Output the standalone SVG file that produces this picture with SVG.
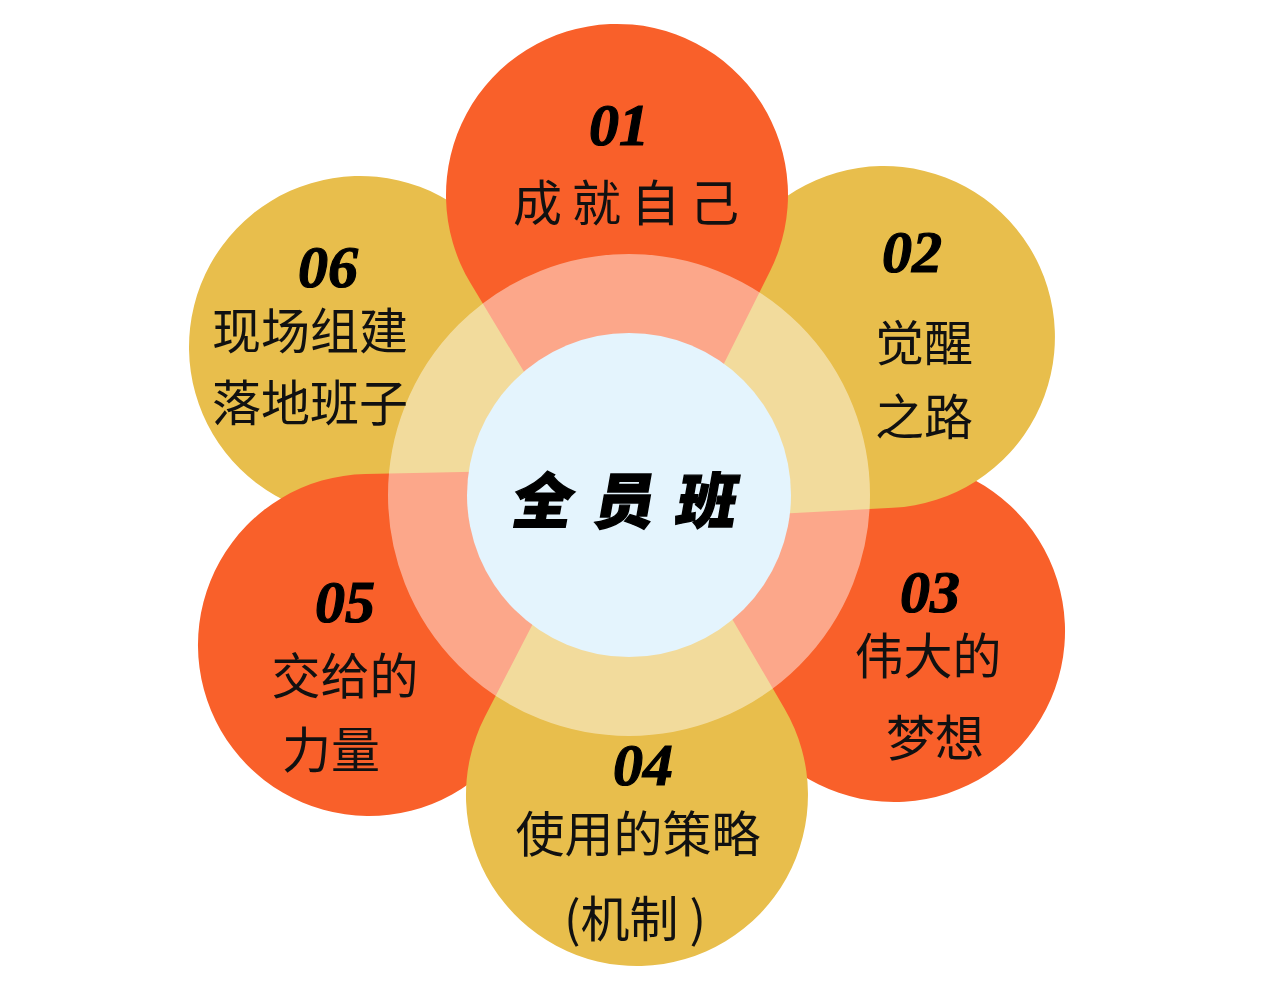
<svg xmlns="http://www.w3.org/2000/svg" width="1280" height="997" viewBox="0 0 1280 997">
<style>
.org{fill:#F9602A}
.yel{fill:#E8BE4C}
.num{font-family:"Liberation Serif","DejaVu Serif",serif;font-weight:bold;font-style:italic;font-size:60px;fill:#000;stroke:#000;stroke-width:1.2;text-anchor:middle}
.lbl{font-family:"Noto Sans CJK SC","Noto Sans",sans-serif;font-size:49px;fill:#111;text-anchor:middle}
.ctr{font-family:"Noto Sans CJK SC","Noto Sans",sans-serif;font-weight:900;font-size:60px;fill:#000;stroke:#000;stroke-width:1.5;text-anchor:middle}
</style>
<rect width="1280" height="997" fill="#FFFFFF"/>
<g id="petal-03"><path class="org" d="M578.2,468.9 L889.1,460.1 A171,171 0 1 1 752.3,726.7 Z"/></g>
<g id="petal-06"><path class="yel" d="M671.0,518.1 L359.9,518.0 A171,171 0 1 1 504.4,255.4 Z"/></g>
<g id="petal-02"><path class="yel" d="M582.2,524.0 L735.0,253.0 A171,171 0 1 1 892.9,507.8 Z"/></g>
<g id="petal-05"><path class="org" d="M676.5,467.6 L515.2,733.6 A171,171 0 1 1 365.5,474.0 Z"/></g>
<g id="petal-04"><path class="yel" d="M627.5,440.1 L784.6,708.7 A171,171 0 1 1 485.0,716.6 Z"/></g>
<g id="petal-01"><path class="org" d="M631.2,549.7 L470.6,283.3 A171,171 0 1 1 770.0,271.3 Z"/></g>
<g id="ring"><circle cx="629" cy="495" r="201" fill="none" stroke="#FFFFFF" stroke-opacity="0.45" stroke-width="80"/></g>
<g id="center"><circle cx="629" cy="495" r="162" fill="#E4F4FD"/>
<text class="ctr" x="633" y="523" letter-spacing="22" transform="translate(0 523) skewX(-10) translate(0 -523)">全员班</text></g>
<g id="n01"><text class="num" x="619" y="145">01</text><text class="lbl" x="631" y="221" letter-spacing="10">成就自己</text></g>
<g id="n02"><text class="num" x="912" y="272">02</text><text class="lbl" x="924" y="361">觉醒</text><text class="lbl" x="924" y="435">之路</text></g>
<g id="n03"><text class="num" x="930" y="612">03</text><text class="lbl" x="928" y="674">伟大的</text><text class="lbl" x="935" y="756">梦想</text></g>
<g id="n04"><text class="num" x="643" y="785">04</text><text class="lbl" x="638" y="852">使用的策略</text><text class="lbl" x="635" y="937">(机制 )</text></g>
<g id="n05"><text class="num" x="345" y="622">05</text><text class="lbl" x="345" y="694">交给的</text><text class="lbl" x="331" y="768">力量</text></g>
<g id="n06"><text class="num" x="328" y="287">06</text><text class="lbl" x="310" y="349">现场组建</text><text class="lbl" x="310" y="421">落地班子</text></g>
<g id="connectors"></g>
</svg>
